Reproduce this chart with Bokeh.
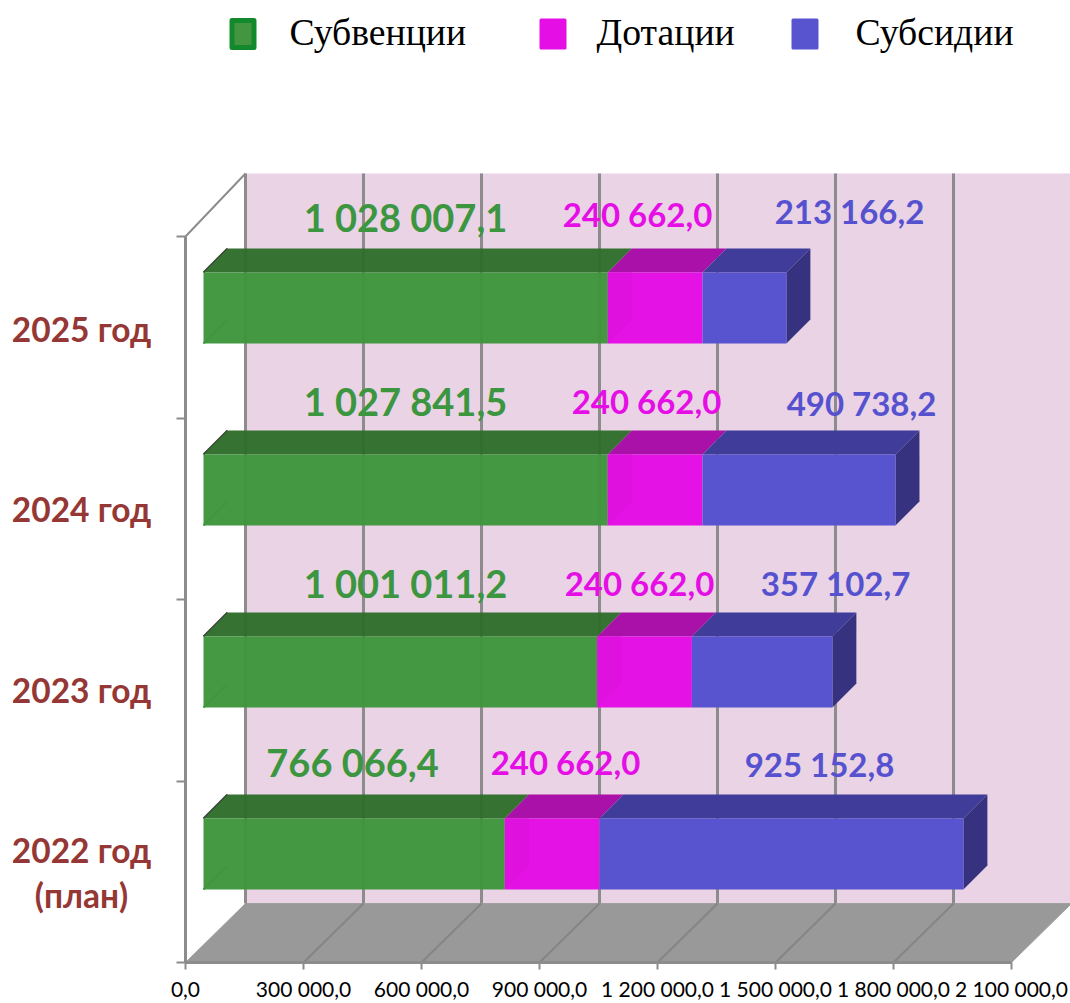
from bokeh.plotting import figure
from bokeh.models import FixedTicker, LinearAxis, Range1d
from bokeh.core.properties import value
from bokeh.embed import file_html
from bokeh.resources import INLINE
import numpy as np

years = ["2022 год\n(план)", "2023 год", "2024 год", "2025 год"]
subventions = [766066.4, 1001011.2, 1027841.5, 1028007.1]
dotations = [240662.0, 240662.0, 240662.0, 240662.0]
subsidies = [925152.8, 357102.7, 490738.2, 213166.2]
series_names = ["Субвенции", "Дотации", "Субсидии"]
subvention_labels = ["766 066,4", "1 001 011,2", "1 027 841,5", "1 028 007,1"]
dotation_labels = ["240 662,0", "240 662,0", "240 662,0", "240 662,0"]
subsidy_labels = ["925 152,8", "357 102,7", "490 738,2", "213 166,2"]
x_ticks = [0, 300000, 600000, 900000, 1200000, 1500000, 1800000, 2100000]
x_tick_labels = ["0,0", "300 000,0", "600 000,0", "900 000,0", "1 200 000,0",
                 "1 500 000,0", "1 800 000,0", "2 100 000,0"]
y_ticks = [0, 1, 2, 3, 4]

W, H = 1070, 1003
OX, OY = 185.0, 962.0        # pixel of the axes' origin
KX = 826.0 / 2100000.0       # px per value
KY = 181.5                   # px per band


def fx(px):
    return (np.asarray(px, dtype=float) - OX) / KX


def fy(py):
    return (OY - np.asarray(py, dtype=float)) / KY


p = figure(width=W, height=H, output_backend="svg", toolbar_location=None,
           x_range=Range1d(float(fx(0)), float(fx(W))),
           y_range=Range1d(float(fy(H)), float(fy(0))),
           x_axis_type=None, y_axis_type=None, min_border=0,
           outline_line_color=None, background_fill_color="white",
           border_fill_color="white")
p.grid.visible = False

GRID = "#8C8C8C"
WALL_X, WALL_TOP, WALL_BOTTOM = 60 / KX, float(fy(173)), float(fy(903))
AX_TOP = 4.0

# back wall and floor
p.quad(left=[WALL_X], right=[2100000 + WALL_X], bottom=[WALL_BOTTOM], top=[WALL_TOP],
       fill_color="#E9D3E5", line_color=None)
p.patch([0, 2100000, 2100000 + WALL_X, WALL_X], [0, 0, WALL_BOTTOM, WALL_BOTTOM],
        fill_color="#999999", line_color="#A0A0A0", line_width=1)

# grid on wall and floor
tx = np.array(x_ticks[:-1], dtype=float)
p.segment(tx + WALL_X, WALL_BOTTOM, tx + WALL_X, WALL_TOP, line_color=GRID, line_width=3)
p.segment(tx[1:], 0, tx[1:] + WALL_X, WALL_BOTTOM, line_color="#858585", line_width=2)
p.segment([0], [AX_TOP], [WALL_X], [WALL_TOP], line_color=GRID, line_width=2)

# axes
xaxis = LinearAxis(fixed_location=0, bounds=(0, 2100000),
                   ticker=FixedTicker(ticks=x_ticks),
                   major_label_overrides=dict(zip(x_ticks, x_tick_labels)))
xaxis.axis_line_color = GRID
xaxis.axis_line_width = 3
xaxis.major_tick_line_color = GRID
xaxis.major_tick_line_width = 2
xaxis.major_tick_in = 0
xaxis.major_tick_out = 7
xaxis.minor_tick_line_color = None
xaxis.major_label_text_font = "Lato"
xaxis.major_label_text_font_size = "21px"
xaxis.major_label_text_color = "#000000"
xaxis.major_label_standoff = 6
p.add_layout(xaxis, "below")

yaxis = LinearAxis(fixed_location=0, bounds=(0, 4),
                   ticker=FixedTicker(ticks=y_ticks),
                   major_label_overrides={t: "" for t in y_ticks})
yaxis.axis_line_color = GRID
yaxis.axis_line_width = 3
yaxis.major_tick_line_color = GRID
yaxis.major_tick_line_width = 2
yaxis.major_tick_in = 0
yaxis.major_tick_out = 9
yaxis.minor_tick_line_color = None
p.add_layout(yaxis, "left")

# bars
BAR_X = 18 / KX
BAR_B = 73 / KY
BAR_H = 71 / KY
DX, DY = 24 / KX, 24 / KY
BAND_STEP = 182 / KY

base = np.arange(len(years), dtype=float) * BAND_STEP
s1 = np.array(subventions)
s2 = np.array(dotations)
s3 = np.array(subsidies)
l1 = np.full(len(years), BAR_X)
r1 = l1 + s1
r2 = r1 + s2
r3 = r2 + s3
bot = base + BAR_B
top = bot + BAR_H


def tops(l, r):
    xs = [[a, b, b + DX, a + DX] for a, b in zip(l, r)]
    ys = [[t, t, t + DY, t + DY] for t in top]
    return xs, ys


# thin edges of the hidden green end cap at the left
p.segment(l1, top, l1 + DX, top + DY, line_color="#3A3A3A", line_width=2)
p.segment(l1, bot, l1 + DX, bot + DY, line_color="#3A8F3C", line_width=2)

for l, r, c, a in [(l1, r1, "#2F6E2B", 0.97), (r1, r2, "#A911A8", 1), (r2, r3, "#3F3D99", 1)]:
    xs, ys = tops(l, r)
    p.patches(xs, ys, fill_color=c, fill_alpha=a, line_color=None)

# right side of the stack
p.patches([[b, b + DX, b + DX, b] for b in r3],
          [[t, t + DY, bb + DY, bb] for t, bb in zip(top, bot)],
          fill_color="#37327F", line_color=None)

p.quad(left=l1, right=r1, bottom=bot, top=top, fill_color="#3F963C", fill_alpha=0.97, line_color=None)
p.quad(left=r1, right=r2, bottom=bot, top=top, fill_color="#E512E5", line_color=None)
p.quad(left=r2, right=r3, bottom=bot, top=top, fill_color="#5853CF", line_color=None)
# faint end cap seen through the magenta segment
p.patches([[b, b + DX, b + DX, b] for b in r1],
          [[t, t, bb + DY, bb] for t, bb in zip(top, bot)],
          fill_color="#DF11DF", line_color=None)

# data labels (positions in pixels)
for labels, px, py, col, size in [
    (subvention_labels, [352, 405, 405, 405], [761, 582, 400, 216], "#3C963F", "38px"),
    (dotation_labels, [565, 639, 646, 637], [761, 582, 400, 213], "#E50FE5", "33px"),
    (subsidy_labels, [819, 835, 861, 849], [763, 582, 402, 210], "#5652CF", "33px"),
]:
    p.text(fx(px), fy(py), text=labels, text_color=col, text_font=value("Lato"),
           text_font_style="bold", text_font_size=size, text_align="center",
           text_baseline="middle")

# year labels
p.text(fx([81, 81, 81, 81]), fy([872, 689, 508, 328]), text=years, text_color="#953735",
       text_font=value("Lato"), text_font_style="bold", text_font_size="33.5px",
       text_align="center", text_baseline="middle", text_line_height=1.12)

# legend
p.rect(fx([242.5]), fy([33.5]), width=[22], height=[27], width_units="screen", height_units="screen",
       fill_color="#43963F", line_color="#12892C", line_width=5, line_join="round")
p.rect(fx([552.5, 804.5]), fy([33.5, 33.5]), width=[24, 24], height=[28, 28],
       width_units="screen", height_units="screen",
       fill_color=["#E50FE5", "#5853CF"], line_color=["#E50FE5", "#5853CF"], line_width=3, line_join="round")
p.text(fx([289, 596, 855]), fy([31, 31, 31]), text=series_names, text_color="#000000",
       text_font=value("Liberation Serif"), text_font_size="37.7px", text_align="left",
       text_baseline="middle")

open("out.html", "w").write(file_html(p, INLINE))
